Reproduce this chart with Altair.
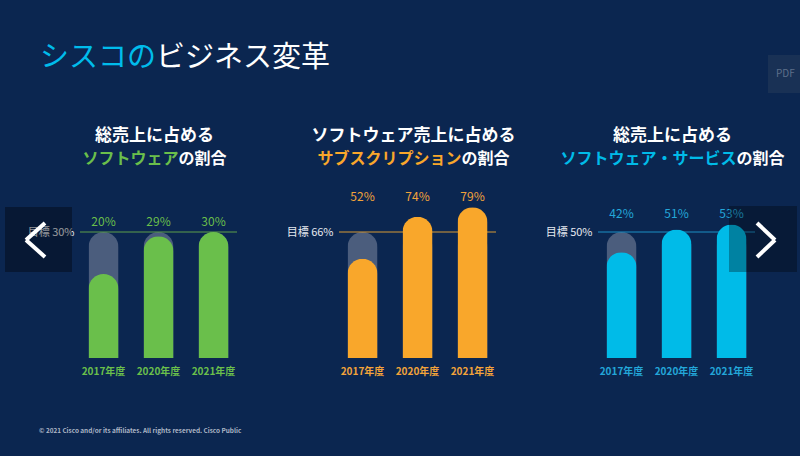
import altair as alt
import pandas as pd

# ---------------- data ----------------
years = ["2017年度", "2020年度", "2021年度"]
software_share = [20, 29, 30]          # 総売上に占めるソフトウェアの割合
subscription_share = [52, 74, 79]      # ソフトウェア売上に占めるサブスクリプションの割合
sw_service_share = [42, 51, 53]        # 総売上に占めるソフトウェア・サービスの割合
targets = [30, 66, 50]                 # 目標

title_line1 = ["総売上に占める", "ソフトウェア売上に占める", "総売上に占める"]
title_hilite = ["ソフトウェア", "サブスクリプション", "ソフトウェア・サービス"]
title_rest = ["の割合", "の割合", "の割合"]
main_hilite = "シスコの"
main_rest = "ビジネス変革"
footer_text = "© 2021  Cisco and/or its affiliates. All rights reserved.   Cisco Public"

# ---------------- style ----------------
BG = "#0b2650"
GHOST = "#4b5d7d"
FONT = "Noto Sans CJK JP"
bar_colors = ["#6abf4b", "#f9a72b", "#00bbe8"]
label_colors = ["#6abf4b", "#f2a33a", "#23a6d9"]
rule_colors = ["#5f9f4a", "#d99a35", "#1d8fc4"]
W, H = 157, 238
TARGET_PX = 126
TITLE_FS = 16


def one():
    return pd.DataFrame({"a": [0]})


def text_layer(txt, x, y, color, size, weight="normal", align="left", baseline="middle"):
    return alt.Chart(one()).mark_text(
        text=txt, color=color, fontSize=size, fontWeight=weight, align=align,
        baseline=baseline, font=FONT
    ).encode(x=alt.value(x), y=alt.value(y))


def rect_layer(x, x2, y, y2, color, opacity=1.0):
    return alt.Chart(one()).mark_rect(color=color, opacity=opacity).encode(
        x=alt.value(x), x2=alt.value(x2), y=alt.value(y), y2=alt.value(y2))


def line_layer(x, y, x2, y2, color="white", width=4):
    return alt.Chart(one()).mark_rule(color=color, strokeWidth=width).encode(
        x=alt.value(x), y=alt.value(y), x2=alt.value(x2), y2=alt.value(y2))


def panel(i, values):
    t = targets[i]
    df = pd.DataFrame({"year": years, "value": values, "target": t})
    xaxis = alt.Axis(title=None, ticks=False, domain=False, grid=False,
                     labelColor=label_colors[i], labelFontSize=10, labelFontWeight="bold",
                     labelPadding=8, labelAngle=0, labelFont=FONT)
    xenc = alt.X("year:N", sort=years, axis=xaxis,
                 scale=alt.Scale(paddingInner=0.4545, paddingOuter=0.1545))
    yaxis = alt.Axis(title=None, ticks=False, domain=False, grid=False,
                     values=[t], labelExpr=f"'目標 {t}%'", labelColor="#e6e9ef",
                     labelFontSize=11, labelPadding=6, labelFont=FONT)
    yscale = alt.Scale(domain=[0, t * H / TARGET_PX], nice=False)

    base = alt.Chart(df)
    ghost = base.mark_bar(color=GHOST, cornerRadiusTopLeft=15, cornerRadiusTopRight=15).encode(
        x=xenc, y=alt.Y("target:Q", scale=yscale, axis=yaxis))
    rule = alt.Chart(pd.DataFrame({"target": [t]})).mark_rule(
        color=rule_colors[i], strokeWidth=1).encode(
        y=alt.Y("target:Q", scale=yscale, axis=yaxis))
    bars = base.mark_bar(color=bar_colors[i], cornerRadiusTopLeft=15, cornerRadiusTopRight=15).encode(
        x=xenc, y=alt.Y("value:Q", scale=yscale, axis=yaxis))
    vals = base.transform_joinaggregate(maxv="max(value)").transform_calculate(
        top="max(datum.maxv, datum.target)", label="datum.value + '%'"
    ).mark_text(color=label_colors[i], fontSize=12, dy=-10, baseline="middle", font=FONT).encode(
        x=xenc, y=alt.Y("top:Q", scale=yscale, axis=yaxis), text="label:N")

    # two-line panel title; line 2 has a coloured part and a white part
    cx = W / 2 - 4
    split = cx + TITLE_FS * (len(title_hilite[i]) - len(title_rest[i])) / 2
    t1 = text_layer(title_line1[i], cx, 16, "white", TITLE_FS + 1, "bold", align="center")
    t2a = text_layer(title_hilite[i], split, 39, bar_colors[i], TITLE_FS, "bold", align="right")
    t2b = text_layer(title_rest[i], split, 39, "white", TITLE_FS, "bold", align="left")

    return [ghost, rule, bars, vals, t1, t2a, t2b]


p1_layers = panel(0, software_share)
p2_layers = panel(1, subscription_share)
p3_layers = panel(2, sw_service_share)

# slide decorations (relative to panel 1 plot origin at canvas 80,120)
canvas = rect_layer(-80, 720, -120, 336, BG, 0.0)   # invisible frame fixing the 800x456 bounds
main1 = text_layer(main_hilite, -40, -62, "#00bceb", 29)
main2 = text_layer(main_rest, 76, -62, "white", 29)
foot = text_layer(footer_text, -41, 311, "#aeb7c6", 6.4, "bold")
lbox = rect_layer(-75, -8, 87, 152, "black", 0.35)
lch1 = line_layer(-35, 103, -54, 120)
lch2 = line_layer(-54, 120, -35, 137)

p1 = alt.layer(canvas, *p1_layers, main1, main2, foot, lbox, lch1, lch2).properties(width=W, height=H)
p2 = alt.layer(*p2_layers).properties(width=W, height=H)

# right-side decorations (relative to panel 3 plot origin at canvas 598,120)
rbox = rect_layer(131, 199, 86, 152, "black", 0.3)
rch1 = line_layer(159, 103, 177, 120)
rch2 = line_layer(177, 120, 159, 137)
pdfbox = rect_layer(170, 202, -65, -27, "#1b3355", 0.9)
pdftxt = text_layer("PDF", 178, -46, "#5d6f8a", 10)
p3 = alt.layer(*p3_layers, rbox, rch1, rch2, pdfbox, pdftxt).properties(width=W, height=H)

chart = alt.hconcat(p1, p2, p3, spacing=102, bounds="flush").resolve_scale(
    x="independent", y="independent"
).configure(background=BG, padding=0, font=FONT).configure_view(stroke=None)

chart.save("out.html", embed_options={"renderer": "svg", "actions": False})
